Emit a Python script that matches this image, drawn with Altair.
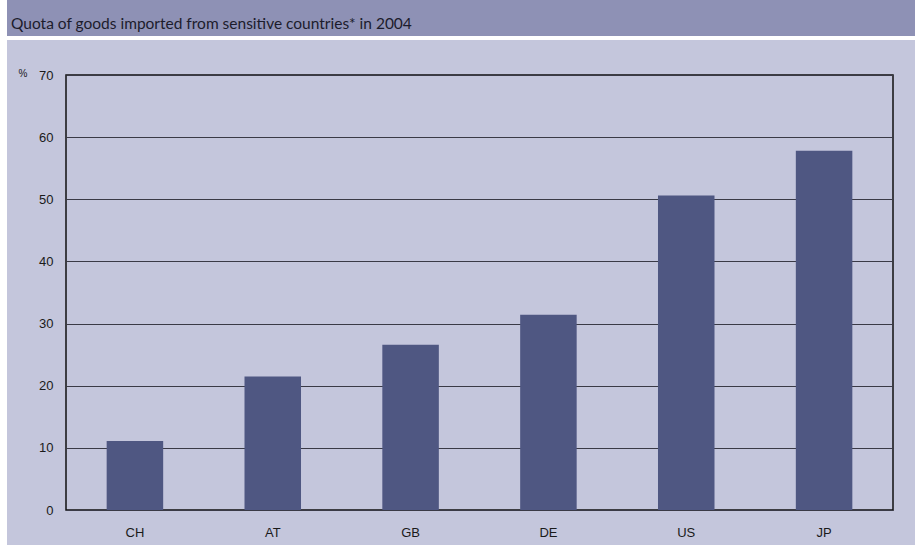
import altair as alt
import pandas as pd

countries = ["CH", "AT", "GB", "DE", "US", "JP"]
quota = [11.1, 21.5, 26.6, 31.4, 50.6, 57.8]
title_text = "Quota of goods imported from sensitive countries* in 2004"
y_ticks = [0, 10, 20, 30, 40, 50, 60, 70]

df = pd.DataFrame({"country": countries, "quota": quota})

W, H = 827, 435
PL, PT = 66, 75
BODY = "#c4c6dc"
BAR = "#4f5782"
HEAD = "#8e91b5"

x_enc = alt.X("country:N", sort=countries, title=None,
              scale=alt.Scale(paddingInner=0.59, paddingOuter=0.295),
              axis=alt.Axis(labelAngle=0, ticks=False, domain=False, labelPadding=16,
                            labelFont="Liberation Sans", labelFontSize=13,
                            labelColor="#1a1a1a"))
y_enc = alt.Y("quota:Q", title="%",
              scale=alt.Scale(domain=[0, 70], nice=False),
              axis=alt.Axis(values=y_ticks, ticks=False, domain=False, labelPadding=13,
                            labelFont="Liberation Sans", labelFontSize=13,
                            labelColor="#1a1a1a", grid=True, gridColor="#3a3a46",
                            gridWidth=1, titleAngle=0, titleX=-48, titleY=-2,
                            titleAlign="left", titleBaseline="middle",
                            titleFont="Liberation Sans", titleFontSize=10,
                            titleFontWeight="normal", titleColor="#1a1a1a"))

bars = alt.Chart(df).mark_bar(color=BAR).encode(x=x_enc, y=y_enc)

base = alt.Chart(pd.DataFrame({"k": [0]}))
left_strip = base.mark_rect(color="white").encode(
    x=alt.value(-PL), x2=alt.value(7 - PL), y=alt.value(-PT), y2=alt.value(545 - PT))
head = base.mark_rect(color=HEAD).encode(
    x=alt.value(7 - PL), x2=alt.value(915 - PL), y=alt.value(-PT), y2=alt.value(36 - PT))
stripe = base.mark_rect(color="white").encode(
    x=alt.value(7 - PL), x2=alt.value(915 - PL), y=alt.value(36 - PT), y2=alt.value(40 - PT))
title = base.mark_text(align="left", baseline="alphabetic",
                       font="Lato, sans-serif",
                       fontSize=15.5, color="#1c1c2c").encode(
    x=alt.value(11 - PL), y=alt.value(29 - PT), text=alt.value(title_text))

chart = alt.layer(bars, left_strip, head, stripe, title).properties(
    width=W, height=H,
    padding={"left": PL, "top": PT, "right": 915 - PL - W, "bottom": 545 - PT - H},
    autosize=alt.AutoSizeParams(type="none"),
    background=BODY,
).configure_view(stroke="#111111", strokeWidth=1.5)

chart.save("out.html", embed_options={"renderer": "svg", "actions": False})
